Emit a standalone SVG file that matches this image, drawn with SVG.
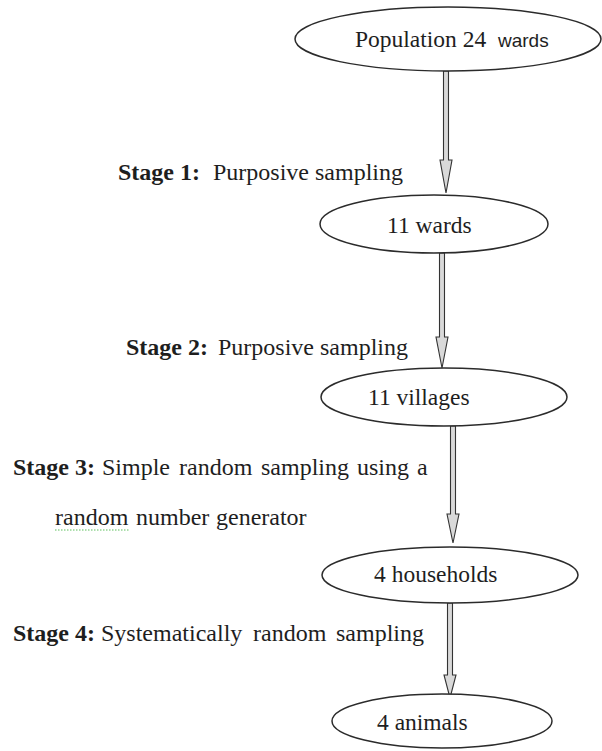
<svg xmlns="http://www.w3.org/2000/svg" width="602" height="751" viewBox="0 0 602 751">
<style>
.bg{fill:#ffffff}
.node ellipse{fill:#ffffff;stroke:#2b2b2b;stroke-width:1.5}
.t{font-family:"Liberation Serif","Times New Roman",serif;font-size:23.5px;fill:#1e1e1e}
.lbl{font-size:24px}
.b{font-weight:bold}
.sans{font-family:"Liberation Sans",Arial,sans-serif;font-size:19px}
.arrow{fill:#d9d9d9;stroke:#333333;stroke-width:1.1;stroke-linejoin:miter}
.spell{fill:none;stroke:#5cbf5c;stroke-width:1.2;stroke-dasharray:1.5 1.5}
</style>
<rect class="bg" x="0" y="0" width="602" height="751"/>

<g id="connectors">
  <path class="arrow" d="M443.5,71 V160 H440 L446,193 L452,160 H448.5 V71 Z"/>
  <path class="arrow" d="M439.5,253 V337 H436 L442,368 L448,337 H444.5 V253 Z"/>
  <path class="arrow" d="M450.5,426 V514 H447 L453,543 L459,514 H455.5 V426 Z"/>
  <path class="arrow" d="M447.5,603 V675 H444 L450,698 L456,675 H452.5 V603 Z"/>
</g>

<g id="node-population" class="node">
  <ellipse cx="448" cy="39" rx="153" ry="32"/>
  <text class="t" x="355" y="47">Population 24 <tspan class="sans" x="498">wards</tspan></text>
</g>

<g id="node-11-wards" class="node">
  <ellipse cx="434" cy="224" rx="114" ry="29"/>
  <text class="t" x="387" y="233">11 wards</text>
</g>

<g id="node-11-villages" class="node">
  <ellipse cx="444" cy="397" rx="123" ry="29"/>
  <text class="t" x="368" y="405">11 villages</text>
</g>

<g id="node-4-households" class="node">
  <ellipse cx="450" cy="575" rx="128" ry="28"/>
  <text class="t" x="374" y="582">4 households</text>
</g>

<g id="node-4-animals" class="node">
  <ellipse cx="442" cy="721" rx="110" ry="27"/>
  <text class="t" x="377" y="730">4 animals</text>
</g>

<g id="labels">
  <text class="t lbl" y="180"><tspan class="b" x="118">Stage 1:</tspan><tspan x="213">Purposive sampling</tspan></text>
  <text class="t lbl" y="355"><tspan class="b" x="126">Stage 2:</tspan><tspan x="218">Purposive sampling</tspan></text>
  <text class="t lbl" y="475"><tspan class="b" x="13">Stage 3:</tspan><tspan x="102">Simple</tspan><tspan x="179">random</tspan><tspan x="261">sampling</tspan><tspan x="357">using</tspan><tspan x="417">a</tspan></text>
  <text class="t lbl" y="525"><tspan x="55">random</tspan><tspan x="136">number</tspan><tspan x="216">generator</tspan></text>
  <path class="spell" d="M55,530 L129,530"/>
  <text class="t lbl" y="641"><tspan class="b" x="13">Stage 4:</tspan><tspan x="101">Systematically</tspan><tspan x="253">random</tspan><tspan x="336">sampling</tspan></text>
</g>
</svg>
